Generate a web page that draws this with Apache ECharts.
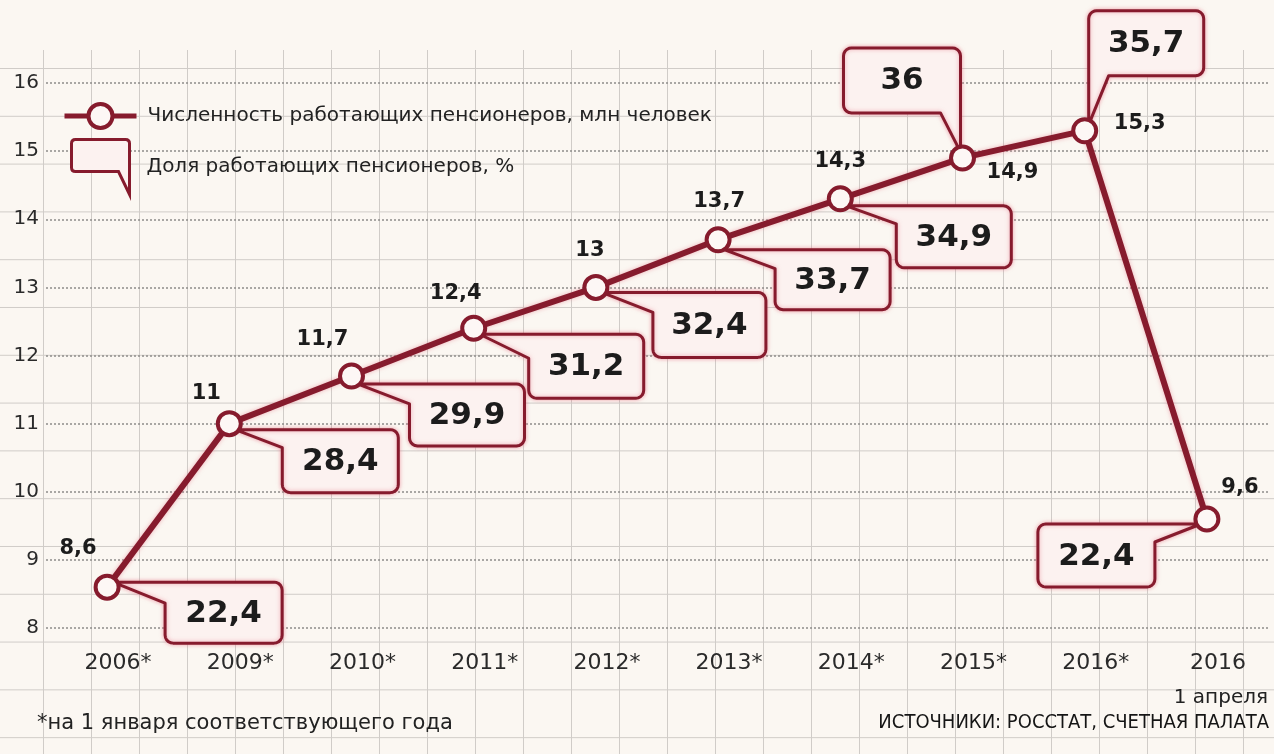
<!DOCTYPE html>
<html>
<head>
<meta charset="utf-8">
<script src="https://cdn.jsdelivr.net/npm/echarts@6/dist/echarts.min.js"></script>
<style>
  html, body { margin: 0; padding: 0; background: #fbf7f2; }
  #paper { position: absolute; left: 0; top: 50px; width: 1274px; height: 704px;
    background-image: linear-gradient(to right, #d0ccc8 1px, transparent 1px),
                      linear-gradient(to bottom, #d0ccc8 1px, transparent 1px);
    background-size: 48px 47.8px; background-position: 43px 18px; }
  #chart { position: absolute; left: 0; top: 0; width: 1274px; height: 754px; }
</style>
</head>
<body>
<div id="paper"></div>
<div id="chart"></div>
<script>
// ---- data ----
const categories = ['2006*', '2009*', '2010*', '2011*', '2012*', '2013*', '2014*', '2015*', '2016*', '2016'];
const workingPensioners = [8.6, 11, 11.7, 12.4, 13, 13.7, 14.3, 14.9, 15.3, 9.6];   // млн человек
const workingShare = [22.4, 28.4, 29.9, 31.2, 32.4, 33.7, 34.9, 36, 35.7, 22.4];     // %
const yMin = 8, yMax = 16, yStep = 1;
const seriesNames = ['Численность работающих пенсионеров, млн человек', 'Доля работающих пенсионеров, %'];

// ---- layout (positions / styles, not data) ----
const valueLabelOffsets = [[-29, -39], [-23, -30], [-29, -36], [-18, -35], [-6, -37], [1, -38], [0, -37], [50, 15], [55, -7], [33, -31]];
const calloutLayout = [
  { dx: 58, dy: -5, w: 117, h: 61, tail: 'tl', t: 21 },
  { dx: 53, dy: 6, w: 116, h: 63, tail: 'tl', t: 18 },
  { dx: 58, dy: 8, w: 115, h: 62, tail: 'tl', t: 20 },
  { dx: 55, dy: 6, w: 115, h: 64, tail: 'tl', t: 24 },
  { dx: 57, dy: 5, w: 113, h: 65, tail: 'tl', t: 20 },
  { dx: 57, dy: 10, w: 115, h: 60, tail: 'tl', t: 19 },
  { dx: 56, dy: 7, w: 115, h: 62, tail: 'tl', t: 18 },
  { dx: -119, dy: -110, w: 117, h: 65, tail: 'br', t: 20 },
  { dx: 4, dy: -120, w: 115, h: 65, tail: 'bl', t: 20 },
  { dx: -169, dy: 5, w: 117, h: 63, tail: 'tr', t: 18 }
];
const RED = '#861b2d';
const BOX_FILL = '#fcf2f0';
const FONT = '"DejaVu Sans", "Noto Sans", sans-serif';

const fmt = v => String(v).replace('.', ',');

function arc(cx, cy, r, a0, a1) {
  const pts = [];
  for (let k = 0; k <= 5; k++) {
    const a = (a0 + (a1 - a0) * k / 5) * Math.PI / 180;
    pts.push([cx + r * Math.cos(a), cy + r * Math.sin(a)]);
  }
  return pts;
}
function calloutPoints(P, L) {
  const r = 8;
  const x0 = P[0] + L.dx, y0 = P[1] + L.dy, x1 = x0 + L.w, y1 = y0 + L.h;
  const TL = arc(x0 + r, y0 + r, r, 180, 270);
  const TR = arc(x1 - r, y0 + r, r, 270, 360);
  const BR = arc(x1 - r, y1 - r, r, 0, 90);
  const BL = arc(x0 + r, y1 - r, r, 90, 180);
  let pts;
  if (L.tail === 'tl') pts = [[P[0] + 6, y0], ...TR, ...BR, ...BL, [x0, y0 + L.t]];
  else if (L.tail === 'tr') pts = [[P[0] - 6, y0], [x1, y0 + L.t], ...BR, ...BL, ...TL];
  else if (L.tail === 'br') pts = [...TL, ...TR, [x1, P[1] - 6], [x1 - L.t, y1], ...BL];
  else pts = [...TL, ...TR, ...BR, [x0 + L.t, y1], [x0, P[1] - 6]];
  return { pts, cx: (x0 + x1) / 2, cy: (y0 + y1) / 2 };
}

const chart = echarts.init(document.getElementById('chart'), null, { renderer: 'canvas' });

const option = {
  backgroundColor: 'transparent',
  animation: false,
  grid: { left: 46, right: 6, top: 83, bottom: 126 },
  legend: [
    {
      data: [seriesNames[0]], left: 57, top: 97, itemWidth: 72, itemHeight: 30,
      lineStyle: { width: 5, color: RED },
      itemStyle: { color: '#fdf7f5', borderColor: RED, borderWidth: 4 },
      textStyle: { fontFamily: FONT, fontSize: 20, color: '#222', padding: [0, 0, 0, 6] }
    },
    {
      data: [{ name: seriesNames[1], icon: 'path://M4,0 L54,0 Q58,0 58,4 L58,55 L47,32 L4,32 Q0,32 0,28 L0,4 Q0,0 4,0 Z',
               itemStyle: { color: BOX_FILL, borderColor: RED, borderWidth: 3 } }],
      left: 65, top: 133, itemWidth: 58, itemHeight: 55,
      textStyle: { fontFamily: FONT, fontSize: 20, color: '#222', padding: [0, 0, 16, 12] }
    }
  ],
  xAxis: {
    type: 'category', data: categories, boundaryGap: true,
    axisLine: { show: false }, axisTick: { show: false },
    axisLabel: { fontFamily: FONT, fontSize: 22, color: '#2a2a2a', margin: 24, padding: [0, 0, 0, 22] }
  },
  yAxis: {
    type: 'value', min: yMin, max: yMax, interval: yStep,
    axisLine: { show: false }, axisTick: { show: false },
    axisLabel: { fontFamily: FONT, fontSize: 20, color: '#2a2a2a', margin: 7 },
    splitLine: { lineStyle: { color: '#8f8d8b', width: 1.5, type: [2, 2] } }
  },
  series: [
    {
      name: seriesNames[1], type: 'custom', z: 2,
      itemStyle: { color: BOX_FILL, borderColor: RED },
      data: workingShare.map((v, i) => [i, workingPensioners[i], v]),
      encode: { x: 0, y: 1 },
      renderItem: function (params, api) {
        const i = params.dataIndex;
        const P = api.coord([api.value(0), api.value(1)]);
        const c = calloutPoints(P, calloutLayout[i]);
        return {
          type: 'group',
          children: [
            { type: 'polygon', shape: { points: c.pts },
              style: { fill: BOX_FILL, stroke: RED, lineWidth: 3, lineJoin: 'round',
                       shadowBlur: 4, shadowColor: 'rgba(230,110,130,0.55)' } },
            { type: 'text', style: { text: fmt(api.value(2)), x: c.cx, y: c.cy + 1, align: 'center', verticalAlign: 'middle',
                       font: 'bold 31px ' + FONT, fill: '#1c1c1c' } }
          ]
        };
      }
    },
    {
      name: seriesNames[0], type: 'line', z: 5,
      data: workingPensioners.map((v, i) => ({
        value: v,
        label: { offset: valueLabelOffsets[i] }
      })),
      symbol: 'circle', symbolSize: 23,
      itemStyle: { color: '#fdf7f5', borderColor: RED, borderWidth: 4 },
      lineStyle: { color: RED, width: 6, shadowBlur: 4, shadowColor: 'rgba(230,110,130,0.5)' },
      label: {
        show: true, position: 'inside', align: 'center', verticalAlign: 'middle',
        fontFamily: FONT, fontWeight: 'bold', fontSize: 21, color: '#1c1c1c',
        formatter: p => fmt(p.value)
      }
    }
  ],
  graphic: [
    { type: 'text', left: 37, top: 713, style: { text: '*на 1 января соответствующего года', font: '21px ' + FONT, fill: '#222' } },
    { type: 'text', right: 6, top: 688, style: { text: '1 апреля', font: '20px ' + FONT, fill: '#222' } },
    { type: 'text', right: 5, top: 713, style: { text: 'ИСТОЧНИКИ: РОССТАТ, СЧЕТНАЯ ПАЛАТА', font: '20px "DejaVu Sans Condensed", ' + FONT, fill: '#151515' } }
  ]
};
chart.setOption(option);
</script>
</body>
</html>
